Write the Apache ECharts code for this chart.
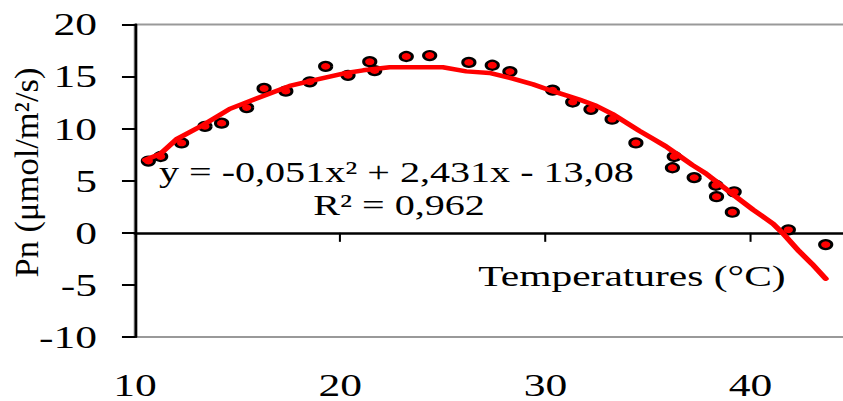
<!DOCTYPE html>
<html>
<head>
<meta charset="utf-8">
<script src="https://cdn.jsdelivr.net/npm/echarts@6.0.0/dist/echarts.min.js"></script>
<style>
  html, body { margin: 0; padding: 0; background: #fff; overflow: hidden; width: 843px; height: 401px; }
  /* the figure is laid out narrow and widened horizontally, as in the printed plate;
     its right-hand edge runs past the page */
  #chart { width: 630px; height: 401px; transform: scaleX(1.359677); transform-origin: 0 0; }
</style>
</head>
<body>
<div id="chart"></div>
<script>
// Net photosynthesis (Pn) measured against leaf temperature
const tempC = [10.65, 11.25, 12.27, 13.41, 14.22, 15.44, 16.29, 17.35, 18.52, 19.29,
               20.38, 21.44, 21.68, 23.22, 24.36, 26.27, 27.41, 28.27, 30.35, 31.33,
               32.22, 33.25, 34.41, 36.28, 36.19, 37.25, 38.31, 38.34, 39.20, 39.11,
               41.84, 43.66];
const pnObs = [6.89, 7.33, 8.63, 10.22, 10.53, 12.02, 13.86, 13.60, 14.50, 15.98,
               15.12, 16.43, 15.57, 16.93, 17.02, 16.36, 16.09, 15.48, 13.70, 12.56,
               11.86, 10.91, 8.63, 7.33, 6.25, 5.30, 4.57, 3.47, 3.94, 1.98,
               0.29, -1.13];

// polynomial trend line (order 2), vertices along the plotted curve
const trendT  = [10.49, 11.25, 12.03, 13.32, 14.62, 15.92, 17.54, 18.84, 20.30, 21.12,
                 22.41, 25.00, 26.14, 27.27, 28.41, 29.40, 30.36, 31.65, 32.47, 33.27,
                 34.57, 35.26, 35.87, 36.52, 37.17, 37.82, 38.47, 39.60, 40.13, 40.57,
                 41.10, 41.55, 42.36, 43.00, 43.66];
const trendPn = [7.00, 7.60, 9.00, 10.35, 11.90, 12.90, 14.10, 14.70, 15.35, 15.60,
                 15.90, 15.90, 15.50, 15.35, 14.80, 14.25, 13.60, 12.80, 12.20, 11.40,
                 9.80, 9.00, 8.30, 7.40, 6.50, 5.70, 4.70, 3.00, 2.20, 1.60,
                 0.85, 0.00, -1.76, -3.00, -4.40];

const xTicks = [10, 20, 30, 40];
const xMax = 45;
const yTicks = [-10, -5, 0, 5, 10, 15, 20];

const equationText = 'y = -0,051x² + 2,431x - 13,08';
const r2Text = 'R² = 0,962';
const xTitle = 'Temperatures (°C)';
const yTitle = 'Pn (μmol/m²/s)';

const W = 630, H = 401;
const SX = 843 / 620;         // horizontal widening applied by the stylesheet
const serif = '"Liberation Serif", "Times New Roman", serif';

const chart = echarts.init(document.getElementById('chart'), null, {
  renderer: 'svg', width: W, height: H
});

const option = {
  animation: false,
  backgroundColor: '#fff',
  grid: {
    left: 99.3, right: 2.5, top: 24.5, bottom: 61,
    show: true, borderColor: '#999', borderWidth: 2, backgroundColor: 'transparent'
  },
  xAxis: [
    {
      // tick labels along the bottom of the frame
      type: 'value', position: 'bottom',
      min: xTicks[0], max: xMax, interval: xTicks[1] - xTicks[0],
      axisLine: { show: false, onZero: false },
      axisTick: { show: false },
      splitLine: { show: false },
      axisLabel: { fontFamily: serif, fontSize: 32, color: '#000', margin: 32, showMaxLabel: false }
    },
    {
      // axis line crossing at Pn = 0
      type: 'value', position: 'bottom',
      min: xTicks[0], max: xMax, interval: xTicks[1] - xTicks[0],
      axisLine: { show: true, onZero: true, lineStyle: { color: '#000', width: 2.5 } },
      axisTick: { show: true, inside: false, length: 9, lineStyle: { color: '#000', width: 1.5 } },
      axisLabel: { show: false },
      splitLine: { show: false }
    }
  ],
  yAxis: {
    type: 'value',
    min: yTicks[0], max: yTicks[yTicks.length - 1], interval: yTicks[1] - yTicks[0],
    axisLine: { show: true, onZero: false, lineStyle: { color: '#000', width: 2 } },
    axisTick: { show: true, inside: false, length: 9.6, lineStyle: { color: '#000', width: 2 } },
    axisLabel: { fontFamily: serif, fontSize: 32, color: '#000', margin: 28 },
    splitLine: { show: false }
  },
  series: [
    {
      type: 'scatter',
      xAxisIndex: 0,
      data: tempC.map((t, i) => [t, pnObs[i]]),
      symbol: 'circle',
      symbolSize: 9,
      itemStyle: { color: '#ff0000', borderColor: '#000', borderWidth: 2.2, opacity: 1 },
      z: 2
    },
    {
      type: 'line',
      xAxisIndex: 0,
      data: trendT.map((t, i) => [t, trendPn[i]]),
      symbol: 'none',
      showSymbol: false,
      lineStyle: { color: '#ff0000', width: 4.5, join: 'round', cap: 'round' },
      z: 3
    }
  ],
  graphic: [
    {
      type: 'text', x: 291.5, y: 172, z: 10,
      style: { text: equationText, fontFamily: serif, fontSize: 29.5, fill: '#000', align: 'center', verticalAlign: 'middle' }
    },
    {
      type: 'text', x: 293.5, y: 205, z: 10,
      style: { text: r2Text, fontFamily: serif, fontSize: 29.5, fill: '#000', align: 'center', verticalAlign: 'middle' }
    },
    {
      type: 'text', x: 464.8, y: 276, z: 10,
      style: { text: xTitle, fontFamily: serif, fontSize: 30.5, fill: '#000', align: 'center', verticalAlign: 'middle' }
    },
    {
      // vertical title; narrowed so the stylesheet widening leaves it upright-proportioned
      type: 'text', x: 19.4, y: 172.5, rotation: Math.PI / 2, scaleY: 1 / SX, z: 10,
      style: { text: yTitle, fontFamily: serif, fontSize: 34.5, fill: '#000', align: 'center', verticalAlign: 'middle' }
    }
  ]
};

chart.setOption(option);
</script>
</body>
</html>
